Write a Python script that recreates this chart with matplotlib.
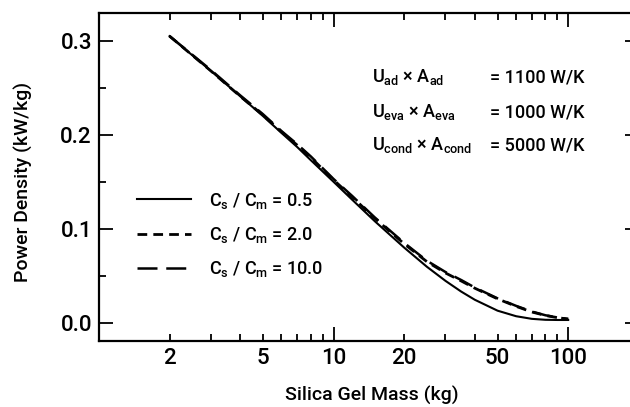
import numpy as np
from matplotlib import pyplot as plt
from matplotlib.ticker import LogLocator, FixedLocator, NullFormatter

plt.rcParams['font.family'] = ['Roboto', 'Liberation Sans', 'DejaVu Sans']
plt.rcParams['font.weight'] = 'medium'
plt.rcParams['mathtext.fontset'] = 'custom'
plt.rcParams['mathtext.rm'] = 'Roboto:medium'

# silica gel mass (kg)
mass = [2, 3, 4, 5, 6, 7, 8, 10, 12, 15, 20, 25, 30, 35, 40, 50, 60, 70, 80, 90, 100]
# power density (kW/kg) for each Cs/Cm ratio
pd_05 = [0.305, 0.268, 0.241, 0.220, 0.202, 0.187, 0.173, 0.150, 0.131, 0.108, 0.080,
         0.0596, 0.0446, 0.0332, 0.0245, 0.0129, 0.0070, 0.0042, 0.0032, 0.0030, 0.0030]
pd_20 = [0.305, 0.268, 0.241, 0.221, 0.203, 0.189, 0.176, 0.152, 0.134, 0.111, 0.084,
         0.065, 0.053, 0.0445, 0.0368, 0.0255, 0.0175, 0.0115, 0.0078, 0.0055, 0.004]
pd_100 = [0.305, 0.269, 0.242, 0.222, 0.204, 0.190, 0.177, 0.153, 0.135, 0.112, 0.085,
          0.066, 0.054, 0.0455, 0.0375, 0.026, 0.018, 0.012, 0.008, 0.0057, 0.004]

xticks = [2, 5, 10, 20, 50, 100]
yticks = [0.0, 0.1, 0.2, 0.3]
labels = [r"C$_{\mathrm{s}}$ / C$_{\mathrm{m}}$ = 0.5",
          r"C$_{\mathrm{s}}$ / C$_{\mathrm{m}}$ = 2.0",
          r"C$_{\mathrm{s}}$ / C$_{\mathrm{m}}$ = 10.0"]
note_left = [r"U$_{\mathrm{ad}}$ $\times$ A$_{\mathrm{ad}}$",
             r"U$_{\mathrm{eva}}$ $\times$ A$_{\mathrm{eva}}$",
             r"U$_{\mathrm{cond}}$ $\times$ A$_{\mathrm{cond}}$"]
note_right = ["= 1100 W/K", "= 1000 W/K", "= 5000 W/K"]
note_y = [0.2557, 0.2185, 0.1837]

fig = plt.figure(figsize=(6.3, 4.07), dpi=100)
ax = fig.add_axes([0.157, 0.163, 0.857, 0.806])

ax.plot(mass, pd_05, color="black", lw=1.5, label=labels[0])
ax.plot(mass, pd_20, color="black", lw=2.0, dashes=(3.5, 2.2), label=labels[1])
ax.plot(mass, pd_100, color="black", lw=1.8, dashes=(8, 3.5), label=labels[2])

ax.set_xscale("log")
ax.set_xlim(1, 200)
ax.set_ylim(-0.019, 0.330)

ax.xaxis.set_major_locator(FixedLocator([10, 100]))
ax.xaxis.set_minor_locator(LogLocator(base=10, subs=np.arange(2, 10)))
ax.xaxis.set_major_formatter(NullFormatter())
ax.xaxis.set_minor_formatter(NullFormatter())
ax.yaxis.set_major_locator(FixedLocator(yticks))
ax.yaxis.set_minor_locator(FixedLocator([0.05, 0.15, 0.25]))
ax.set_yticklabels(["%.1f" % v for v in yticks])

ax.tick_params(which="both", direction="in", top=True, right=True, width=1.3, color="black")
ax.tick_params(which="major", length=10, labelsize=16, pad=5)
ax.tick_params(which="minor", length=5)

# x tick labels at 2, 5, 10, 20, 50, 100 (mix of major and minor ticks)
for v in xticks:
    ax.text(v, -0.027, str(v), ha="center", va="top", fontsize=16)

for s in ax.spines.values():
    s.set_linewidth(1.6)

fig.text(372 / 630, 1 - 395 / 407, "Silica Gel Mass (kg)", ha="center", va="center", fontsize=14)
fig.text(23 / 630, 1 - 182 / 407, "Power Density (kW/kg)", ha="center", va="center",
         rotation=90, fontsize=14)

ytr = ax.get_yaxis_transform()
for i in range(3):
    ax.text(0.505, note_y[i], note_left[i], transform=ytr, fontsize=13, va="baseline")
    ax.text(0.725, note_y[i], note_right[i], transform=ytr, fontsize=13, va="baseline")

ax.legend(loc="upper left", bbox_to_anchor=(0.04, 0.507), frameon=False, fontsize=13,
          handlelength=3.0, handletextpad=1.0, labelspacing=0.8)

fig.savefig("out.png", dpi=100)
